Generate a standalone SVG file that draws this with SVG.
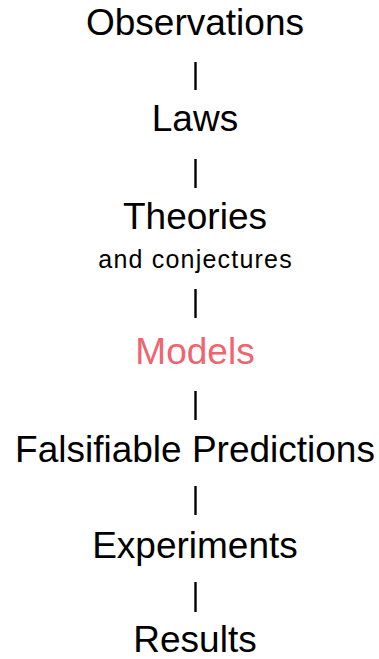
<svg xmlns="http://www.w3.org/2000/svg" width="379" height="659" viewBox="0 0 379 659">
<style>
.t{font-family:"Liberation Sans",Arial,Helvetica,sans-serif;font-size:37px;fill:#000;text-anchor:middle}
.s{font-family:"Liberation Sans",Arial,Helvetica,sans-serif;font-size:25px;letter-spacing:1.2px;fill:#000;text-anchor:middle}
.m{fill:#f06472}
.c line{stroke:#000;stroke-width:2.4}
</style>
<rect width="379" height="659" fill="#fff"/>
<g class="c" id="connectors">
<line x1="195.5" y1="62" x2="195.5" y2="90"/>
<line x1="195.5" y1="159" x2="195.5" y2="188"/>
<line x1="195.5" y1="289" x2="195.5" y2="318"/>
<line x1="195.5" y1="391" x2="195.5" y2="420"/>
<line x1="195.5" y1="486" x2="195.5" y2="515"/>
<line x1="195.5" y1="582" x2="195.5" y2="612"/>
</g>
<g id="observations"><text class="t" x="195" y="35">Observations</text></g>
<g id="laws"><text class="t" x="195" y="131">Laws</text></g>
<g id="theories"><text class="t" x="195" y="229">Theories</text><text class="s" x="195.6" y="268">and conjectures</text></g>
<g id="models"><text class="t m" x="195" y="364">Models</text></g>
<g id="predictions"><text class="t" x="195" y="462">Falsifiable Predictions</text></g>
<g id="experiments"><text class="t" x="195" y="558">Experiments</text></g>
<g id="results"><text class="t" x="195" y="652">Results</text></g>
</svg>
